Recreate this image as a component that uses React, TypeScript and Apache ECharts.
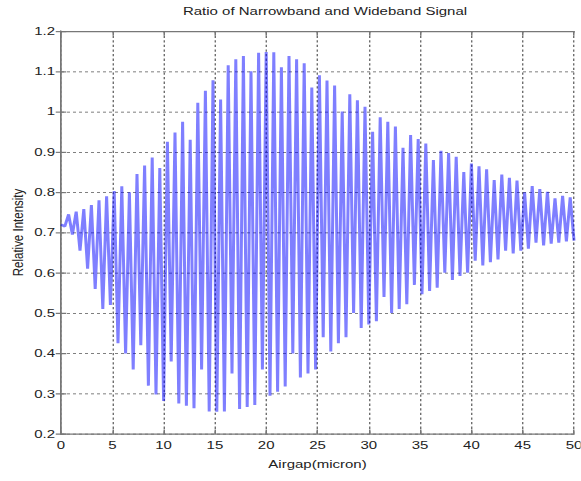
import React, { useEffect, useRef } from "react";
import * as echarts from "echarts";

const titleText = "Ratio of Narrowband and Wideband Signal";
const xName = "Airgap(micron)";
const yName = "Relative Intensity";
const xMin = 0;
const xMax = 50;
const xStep = 5;
const yMin = 0.2;
const yMax = 1.2;
const yStep = 0.1;

// successive maxima of the oscillation
const peaks = [
  0.72, 0.745, 0.752, 0.758, 0.768, 0.78, 0.79, 0.803, 0.815, 0.80,
  0.845, 0.866, 0.886, 0.86, 0.925, 0.948, 0.975, 0.93, 1.022, 1.052,
  1.078, 1.03, 1.115, 1.13, 1.138, 1.10, 1.146, 1.148, 1.147, 1.11,
  1.138, 1.13, 1.12, 1.06, 1.09, 1.077, 1.065, 1.0, 1.043, 1.028,
  1.012, 0.95, 0.986, 0.975, 0.963, 0.91, 0.942, 0.932, 0.921, 0.88,
  0.903, 0.897, 0.888, 0.85, 0.871, 0.864, 0.857, 0.83, 0.844, 0.836,
  0.829, 0.8, 0.815, 0.808, 0.801, 0.785, 0.791, 0.787,
];
// successive minima of the oscillation
const troughs = [
  0.715, 0.695, 0.655, 0.61, 0.56, 0.51, 0.52, 0.425, 0.4, 0.36,
  0.42, 0.32, 0.298, 0.282, 0.38, 0.276, 0.27, 0.264, 0.36, 0.256,
  0.255, 0.256, 0.35, 0.262, 0.267, 0.272, 0.36, 0.295, 0.305, 0.318,
  0.4, 0.34, 0.35, 0.36, 0.44, 0.405, 0.425, 0.44, 0.5, 0.463,
  0.472, 0.48, 0.54, 0.5, 0.51, 0.522, 0.57, 0.547, 0.555, 0.563,
  0.6, 0.582, 0.592, 0.6, 0.63, 0.618, 0.626, 0.633, 0.655, 0.648,
  0.655, 0.66, 0.675, 0.668, 0.672, 0.675, 0.678, 0.68,
];

const W = 581;
const H = 481;
const SX = 1.5;
const SY = 1.15;
const FONT = "'Liberation Sans', Arial, Helvetica, sans-serif";

export default function App() {
  const ref = useRef<HTMLDivElement>(null);
  useEffect(() => {
    const el = ref.current!;
    const chart = echarts.init(el, undefined, {
      renderer: "svg",
      width: W / SX,
      height: H / SY,
    });
    const seq: number[] = [];
    for (let k = 0; k < peaks.length; k++) {
      seq.push(peaks[k]);
      seq.push(troughs[k]);
    }
    const pts = seq.map((v, i) => [xMin + (i * (xMax - xMin)) / (seq.length - 1), v]);

    const axisLine = { show: true, lineStyle: { color: "#777", width: 1 } };
    const txt = { color: "#222", fontFamily: FONT, fontSize: 10 };
    const gL = 61 / SX;
    const gR = (W - 574) / SX;
    const gT = 31 / SY;
    const gB = (H - 434) / SY;

    chart.setOption({
      animation: false,
      backgroundColor: "#fff",
      title: {
        text: titleText,
        left: (61 + 574) / 2 / SX,
        textAlign: "center",
        top: 0,
        textStyle: { ...txt, fontWeight: "normal", fontSize: 10 },
      },
      grid: {
        left: gL,
        right: gR,
        top: gT,
        bottom: gB,
        containLabel: false,
        outerBoundsMode: "none",
      },
      xAxis: [
        {
          type: "value",
          min: xMin,
          max: xMax,
          interval: xStep,
          position: "bottom",
          name: xName,
          nameLocation: "middle",
          nameGap: 21,
          nameTextStyle: { ...txt, fontSize: 10 },
          axisLine,
          axisTick: { show: true, inside: true, length: 4, lineStyle: { color: "#777" } },
          axisLabel: { ...txt, margin: 5 },
          splitLine: { show: true, lineStyle: { color: "#555", type: [2, 2], width: 0.8 } },
        },
        {
          type: "value",
          min: xMin,
          max: xMax,
          interval: xStep,
          position: "top",
          axisLine,
          axisTick: { show: true, inside: true, length: 4, lineStyle: { color: "#777" } },
          axisLabel: { show: false },
          splitLine: { show: false },
        },
      ],
      yAxis: [
        {
          type: "value",
          min: yMin,
          max: yMax,
          interval: yStep,
          position: "left",
          name: yName,
          nameLocation: "middle",
          nameGap: 24,
          nameMoveOverlap: false,
          nameTextStyle: { ...txt, fontSize: 10 },
          axisLine,
          axisTick: { show: true, inside: true, length: 3.5, lineStyle: { color: "#777" } },
          axisLabel: {
            ...txt,
            margin: 4,
            formatter: (v: number) => String(Math.round(v * 10) / 10),
          },
          splitLine: { show: true, lineStyle: { color: "#555", type: [2, 2], width: 0.8 } },
        },
        {
          type: "value",
          min: yMin,
          max: yMax,
          interval: yStep,
          position: "right",
          axisLine,
          axisTick: { show: true, inside: true, length: 3.5, lineStyle: { color: "#777" } },
          axisLabel: { show: false },
          splitLine: { show: false },
        },
      ],
      series: [
        {
          type: "line",
          data: pts,
          showSymbol: false,
          symbol: "none",
          lineStyle: { color: "#0000ff", width: 2, opacity: 0.5 },
          z: 3,
        },
      ],
    });
    return () => chart.dispose();
  }, []);
  return (
    <div
      style={{
        position: "absolute",
        left: 0,
        top: 0,
        width: W,
        height: H,
        overflow: "hidden",
        background: "#fff",
      }}
    >
      <div
        ref={ref}
        style={{
          width: W / SX,
          height: H / SY,
          transform: `scale(${SX}, ${SY})`,
          transformOrigin: "0 0",
        }}
      />
    </div>
  );
}
